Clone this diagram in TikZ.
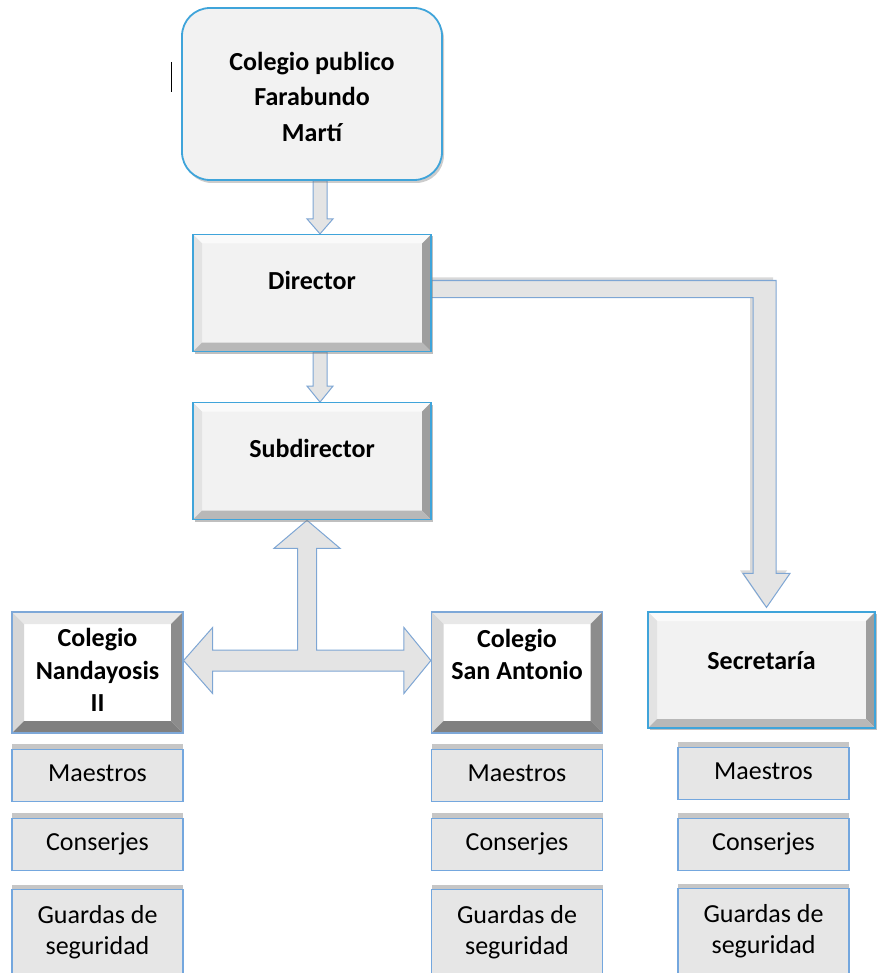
\documentclass[tikz,border=0pt]{standalone}
\usepackage{fontspec}
\setmainfont{Carlito}
\usepackage{tikz}
\usetikzlibrary{positioning, calc, shadows, backgrounds}

\definecolor{boxblue}{HTML}{3FA4DA}
\definecolor{schoolblue}{HTML}{7EA8D8}
\definecolor{staffblue}{HTML}{74A7DE}
\definecolor{staffgray}{HTML}{E6E6E6}
\definecolor{facegray}{HTML}{F2F2F2}
\definecolor{arrowgray}{HTML}{E4E4E4}
\definecolor{arrowblue}{HTML}{7EA6D4}

\begin{document}
\begin{tikzpicture}[
		x=1pt, y=-1pt,
		bevel/.style n args={5}{path picture={
				\coordinate (bsw) at (path picture bounding box.south west);
				\coordinate (bnw) at (path picture bounding box.north west);
				\coordinate (bne) at (path picture bounding box.north east);
				\coordinate (bse) at (path picture bounding box.south east);
				\fill[#2] (bnw) -- (bne) -- ([shift={(-#1,-#1)}]bne) -- ([shift={(#1,-#1)}]bnw) -- cycle;
				\fill[#3] (bsw) -- (bnw) -- ([shift={(#1,-#1)}]bnw) -- ([shift={(#1,#1)}]bsw) -- cycle;
				\fill[#4] (bne) -- (bse) -- ([shift={(-#1,#1)}]bse) -- ([shift={(-#1,-#1)}]bne) -- cycle;
				\fill[#5] (bsw) -- (bse) -- ([shift={(-#1,#1)}]bse) -- ([shift={(#1,#1)}]bsw) -- cycle;
			}},
		headbox/.style={rectangle, rounded corners=28pt, draw=boxblue, line width=1.8pt,
			fill=facegray, align=center, minimum width=260pt, minimum height=172pt,
			text height=100pt, text depth=5pt, font=\fontsize{26}{35.5}\selectfont\bfseries,
			drop shadow={shadow xshift=2pt, shadow yshift=-3pt, opacity=.4}},
		block/.style={rectangle, draw=boxblue, line width=1.2pt, fill=facegray, align=center,
			minimum width=238pt, minimum height=117pt, text height=20pt, text depth=27pt,
			font=\fontsize{26}{32.5}\selectfont\bfseries,
			bevel={9pt}{black!2}{black!11}{black!38}{black!28},
			drop shadow={shadow xshift=2pt, shadow yshift=-2pt, opacity=.5}},
		school/.style={rectangle, draw=schoolblue, line width=1.2pt, fill=white, align=center,
			minimum width=171pt, minimum height=121pt, text height=83pt, text depth=5pt,
			font=\fontsize{26}{32.5}\selectfont\bfseries,
			bevel={12pt}{black!9}{black!16}{black!45}{black!50}},
		staff/.style={rectangle, draw=staffblue, line width=1.2pt, fill=staffgray, align=center,
			minimum width=171pt, minimum height=52pt, text height=17pt, text depth=5pt,
			font=\fontsize{26}{31}\selectfont,
			drop shadow={shadow xshift=0pt, shadow yshift=5pt, opacity=.45}},
		guard/.style={staff, minimum height=105pt, text height=30pt, text depth=5pt},
		barrow/.style={draw=arrowblue, line width=1pt, fill=arrowgray, line join=miter}
		]
		\useasboundingbox (0,0) rectangle (876,973);
		
		% 1. Cabecera y direccion
		\node[headbox] (colegio) at (312,94) {Colegio publico\\Farabundo\\Martí};
		\node[block, below=53pt of colegio] (director) {Director};
		\node[block, below=50pt of director] (subdir) {Subdirector};
		\draw[line width=1.3pt] ([xshift=-9.5pt,yshift=32pt]colegio.west) -- ([xshift=-9.5pt,yshift=2pt]colegio.west);
		
		% 2. Colegios y secretaria
		\node[school] (nandayosis) at (97.5,672.5) {Colegio\\Nandayosis\\II};
		\node[school, text height=19pt] (sanantonio) at (517,672.5) {Colegio\\San Antonio};
		\node[block, minimum width=227pt, minimum height=116pt, text depth=21pt] (secretaria) at (761.5,670) {Secretaría};
		
		% 3. Personal de cada colegio
		\node[staff, below=15pt of nandayosis] (maestrosA) {Maestros};
		\node[staff, below=16pt of maestrosA] (conserjesA) {Conserjes};
		\node[guard, below=18pt of conserjesA] (guardasA) {Guardas de\\seguridad};
		
		\node[staff, below=15pt of sanantonio] (maestrosB) {Maestros};
		\node[staff, below=16pt of maestrosB] (conserjesB) {Conserjes};
		\node[guard, below=18pt of conserjesB] (guardasB) {Guardas de\\seguridad};
		
		\node[staff, below=18pt of secretaria, xshift=2pt] (maestrosC) {Maestros};
		\node[staff, below=18pt of maestrosC] (conserjesC) {Conserjes};
		\node[guard, below=17pt of conserjesC] (guardasC) {Guardas de\\seguridad};
		
		% 4. Flechas de bloque (detras de las cajas)
		\begin{scope}[on background layer]
			\draw[barrow] let \p1=([xshift=8pt]director.north), \p2=(colegio.south) in
			(\x1-7pt,\y2) -- (\x1-7pt,\y1+15pt) -- (\x1-13pt,\y1+15pt) -- (\p1)
			-- (\x1+13pt,\y1+15pt) -- (\x1+7pt,\y1+15pt) -- (\x1+7pt,\y2) -- cycle;
			
			\draw[barrow] let \p1=([xshift=8pt]subdir.north), \p2=(director.south) in
			(\x1-7pt,\y2) -- (\x1-7pt,\y1+16pt) -- (\x1-13pt,\y1+16pt) -- (\p1)
			-- (\x1+13pt,\y1+16pt) -- (\x1+7pt,\y1+16pt) -- (\x1+7pt,\y2) -- cycle;
			
			\draw[barrow, drop shadow={shadow xshift=-3pt, shadow yshift=3pt, opacity=.3}]
			let \p1=([yshift=4pt]director.east), \p2=([xshift=5pt,yshift=4pt]secretaria.north) in
			(\x1,\y1+8.5pt) -- (\x2+9.5pt,\y1+8.5pt) -- (\x2+9.5pt,\y2+34pt) -- (\x2+23.5pt,\y2+34pt) -- (\p2)
			-- (\x2-23.5pt,\y2+34pt) -- (\x2-13.5pt,\y2+34pt) -- (\x2-13.5pt,\y1-8.5pt) -- (\x1,\y1-8.5pt) -- cycle;
			
			\draw[barrow] let \p1=([xshift=-5pt]subdir.south), \p2=([yshift=12pt]nandayosis.east),
			\p3=([yshift=12pt]sanantonio.west) in
			(\p1) -- (\x1+33pt,\y1-28pt) -- (\x1+9.5pt,\y1-28pt) -- (\x1+9.5pt,\y3+10.5pt)
			-- (\x3-27pt,\y3+10.5pt) -- (\x3-27pt,\y3+33pt) -- (\p3) -- (\x3-27pt,\y3-33pt)
			-- (\x3-27pt,\y3-10.5pt) -- (\x2+29pt,\y2-10.5pt) -- (\x2+29pt,\y2-33pt) -- (\p2)
			-- (\x2+29pt,\y2+33pt) -- (\x2+29pt,\y2+10.5pt) -- (\x1-9.5pt,\y2+10.5pt)
			-- (\x1-9.5pt,\y1-28pt) -- (\x1-33pt,\y1-28pt) -- cycle;
		\end{scope}
		
	\end{tikzpicture}
\end{document}
